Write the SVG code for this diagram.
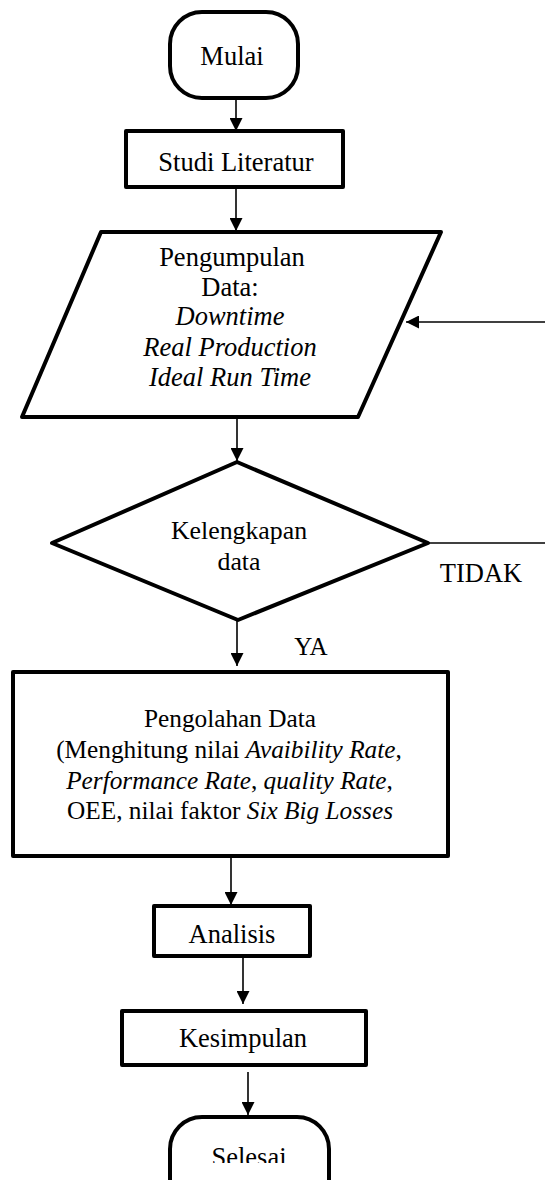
<svg xmlns="http://www.w3.org/2000/svg" width="545" height="1180" viewBox="0 0 545 1180">
<style>
.node{fill:#fff;stroke:#000;stroke-width:4;stroke-linejoin:round}
.t{font-family:"Liberation Serif","Times New Roman",serif;font-size:26.5px;fill:#000;text-anchor:middle}
.m{font-size:25.3px}
.k{font-size:25.8px}
.y{font-size:25px}
.i{font-style:italic}
.c{stroke:#000;stroke-width:1.6;fill:none}
</style>
<defs>
<marker id="ah" viewBox="0 0 13 13" refX="13" refY="6.5" markerWidth="13" markerHeight="13" markerUnits="userSpaceOnUse" orient="auto">
<path d="M0,0 L13,6.5 L0,13 Z" fill="#000"/>
</marker>
<clipPath id="clipSel"><rect x="0" y="0" width="545" height="1163"/></clipPath>
</defs>
<rect width="545" height="1180" fill="#fff"/>
<g id="connectors">
<line class="c" x1="236" y1="98" x2="236" y2="131" marker-end="url(#ah)"/>
<line class="c" x1="236" y1="187" x2="236" y2="231" marker-end="url(#ah)"/>
<line class="c" x1="545" y1="322" x2="406" y2="322" marker-end="url(#ah)"/>
<line class="c" x1="237" y1="417" x2="237" y2="461" marker-end="url(#ah)"/>
<line class="c" x1="428" y1="543" x2="545" y2="543"/>
<line class="c" x1="237" y1="620" x2="237" y2="666" marker-end="url(#ah)"/>
<line class="c" x1="231" y1="857" x2="231" y2="905" marker-end="url(#ah)"/>
<line class="c" x1="243" y1="956" x2="243" y2="1004" marker-end="url(#ah)"/>
<line class="c" x1="248" y1="1072" x2="248" y2="1115" marker-end="url(#ah)"/>
<text class="t" x="481" y="582">TIDAK</text>
<text class="t y" x="311" y="655">YA</text>
</g>
<g id="mulai">
<rect class="node" x="170" y="12" width="128" height="86" rx="32" ry="32"/>
<text class="t" x="232" y="65">Mulai</text>
</g>
<g id="studi">
<rect class="node" x="126" y="131" width="217" height="56"/>
<text class="t" x="236" y="171">Studi Literatur</text>
</g>
<g id="pengumpulan">
<polygon class="node" points="101,232 441,232 358,417 22,417"/>
<text class="t" x="232" y="266">Pengumpulan</text>
<text class="t" x="230" y="296">Data:</text>
<text class="t i" x="230" y="325">Downtime</text>
<text class="t i" x="230" y="356">Real Production</text>
<text class="t i" x="230" y="386">Ideal Run Time</text>
</g>
<g id="kelengkapan">
<polygon class="node" points="237,462 428,543 238,620 52,543"/>
<text class="t k" x="239" y="539">Kelengkapan</text>
<text class="t k" x="239" y="570">data</text>
</g>
<g id="pengolahan">
<rect class="node" x="13" y="672" width="435" height="184"/>
<text class="t m" x="230" y="727">Pengolahan Data</text>
<text class="t m" x="229" y="758">(Menghitung nilai <tspan class="i">Avaibility Rate</tspan>,</text>
<text class="t m" x="229.5" y="789"><tspan class="i">Performance Rate</tspan>, <tspan class="i">quality Rate</tspan>,</text>
<text class="t m" x="230" y="819">OEE, nilai faktor <tspan class="i">Six Big Losses</tspan></text>
</g>
<g id="analisis">
<rect class="node" x="154" y="906" width="156" height="50"/>
<text class="t" x="232" y="943">Analisis</text>
</g>
<g id="kesimpulan">
<rect class="node" x="122" y="1011" width="244" height="54"/>
<text class="t" x="243" y="1047">Kesimpulan</text>
</g>
<g id="selesai">
<rect class="node" x="170" y="1117" width="159" height="100" rx="32" ry="32"/>
<text class="t" x="249" y="1166" clip-path="url(#clipSel)">Selesai</text>
</g>
</svg>
